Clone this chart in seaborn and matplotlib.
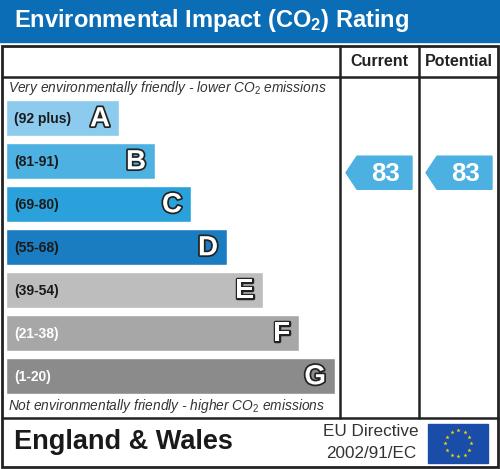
import matplotlib
matplotlib.use("Agg")
import matplotlib.pyplot as plt
import matplotlib.patheffects as pe
import matplotlib.transforms as mtransforms
from matplotlib.patches import Rectangle, Polygon
import numpy as np
import seaborn as sns

# data
bands = ['A', 'B', 'C', 'D', 'E', 'F', 'G']
ranges = ['(92 plus)', '(81-91)', '(69-80)', '(55-68)', '(39-54)', '(21-38)', '(1-20)']
band_low = [92, 81, 69, 55, 39, 21, 1]
band_high = [100, 91, 80, 68, 54, 38, 20]
bar_lengths = [113, 149, 185, 221, 257, 293, 329]
band_colors = ['#8ccaee', '#4db1e1', '#2aa1da', '#1a7cc1', '#bdbdbd', '#a7a7a7', '#8b8b8b']
range_text_colors = ['#1a1a1a', '#1a1a1a', '#1a1a1a', '#1a1a1a', '#1a1a1a', 'white', 'white']
current_score = 83
potential_score = 83

sns.set_theme(style="white")
plt.rcParams['font.family'] = ['Liberation Sans', 'DejaVu Sans']
plt.rcParams['mathtext.fontset'] = 'custom'
plt.rcParams['mathtext.rm'] = 'Liberation Sans'
plt.rcParams['mathtext.it'] = 'Liberation Sans:italic'
plt.rcParams['mathtext.bf'] = 'Liberation Sans:bold'

W, H = 500, 469
fig = plt.figure(figsize=(W / 100, H / 100), dpi=100)
bg = fig.add_axes([0, 0, 1, 1])
bg.set_xlim(0, W)
bg.set_ylim(H, 0)
bg.axis('off')

line_c = '#222222'

# title bar
bg.add_patch(Rectangle((0, 0), W, 42, color='#0a6db5', zorder=1))
bg.text(14, 21, r'Environmental Impact (CO$\mathbf{_2}$) Rating', color='white',
        fontsize=17, fontweight='bold', va='center', ha='left')

# frame and grid lines
bg.add_patch(Rectangle((2, 46), 496, 421, fill=False, lw=2, ec=line_c, zorder=5))
bg.plot([2, 498], [77, 77], color=line_c, lw=1.8, zorder=5)
bg.plot([2, 498], [418, 418], color=line_c, lw=1.8, zorder=5)
bg.plot([340, 340], [46, 418], color=line_c, lw=1.8, zorder=5)
bg.plot([419, 419], [46, 418], color=line_c, lw=1.8, zorder=5)

bg.text(379.5, 62, 'Current', fontsize=11.5, fontweight='bold', ha='center', va='center', color='#222')
bg.text(459, 62, 'Potential', fontsize=11.5, fontweight='bold', ha='center', va='center', color='#222')

bg.text(8, 88, r'Very environmentally friendly - lower CO$_2$ emissions', fontsize=9.9,
        style='italic', ha='left', va='center', color='#333')
bg.text(8, 406, r'Not environmentally friendly - higher CO$_2$ emissions', fontsize=9.9,
        style='italic', ha='left', va='center', color='#333')

# bars
pitch = 43.0
bar_h = 36.0
wfrac = bar_h / pitch
top, bottom = 100, 394
left, right = 6, 340
ax = fig.add_axes([left / W, 1 - bottom / H, (right - left) / W, (bottom - top) / H])
sns.barplot(x=bar_lengths, y=bands, hue=bands, palette=band_colors, orient='h',
            width=wfrac, saturation=1, legend=False, ax=ax)
ax.set_xlim(0, right - left)
ax.set_ylim(6 + wfrac / 2, -wfrac / 2)
ax.axis('off')
ax.patch.set_alpha(0)

for i, (b, r, L) in enumerate(zip(bands, ranges, bar_lengths)):
    ax.text(8, i + 0.02, r, fontsize=10, fontweight='bold', color=range_text_colors[i],
            ha='left', va='center')
    ax.text(L - 9, i + 0.03, b, fontsize=20, fontweight='bold', color='white',
            ha='right', va='center',
            path_effects=[pe.withStroke(linewidth=2.5, foreground='#222')])

# rating arrows (x in pixel space, y in band space)
trans = mtransforms.blended_transform_factory(bg.transData, ax.transData)


def score_to_y(score):
    for i, (lo, hi) in enumerate(zip(band_low, band_high)):
        if lo <= score <= hi:
            return i - 0.5 + (hi - score + 0.5) / (hi - lo + 1)
    return 0


def draw_arrow(x0, x1, score):
    y = score_to_y(score)
    hh = 0.385
    tip = 11
    poly = Polygon([(x0, y), (x0 + tip, y - hh), (x1, y - hh), (x1, y + hh), (x0 + tip, y + hh)],
                   closed=True, color='#4cb0e0', transform=trans, zorder=6)
    ax.add_patch(poly)
    poly.set_clip_on(False)
    t = ax.text((x0 + tip + x1) / 2 + 1, y + 0.03, str(score), transform=trans, fontsize=18.5,
                fontweight='bold', color='white', ha='center', va='center', zorder=7)
    t.set_clip_on(False)


draw_arrow(346, 412, current_score)
draw_arrow(426, 492, potential_score)

# footer
bg.text(14, 442, 'England & Wales', fontsize=19.5, fontweight='bold', ha='left', va='center', color='#1a1a1a')
bg.text(371, 432, 'EU Directive', fontsize=12.3, ha='center', va='center', color='#333')
bg.text(371, 454, '2002/91/EC', fontsize=12.3, ha='center', va='center', color='#333')

bg.add_patch(Rectangle((428, 424), 60, 39, color='#1a4da8', zorder=3))
ang = np.linspace(0, 2 * np.pi, 13)[:-1]
bg.scatter(458 + 13 * np.cos(ang), 443.5 + 13 * np.sin(ang), marker='*', s=10,
           color='#f5d800', linewidths=0, zorder=4)

fig.savefig('out.png', dpi=100)
